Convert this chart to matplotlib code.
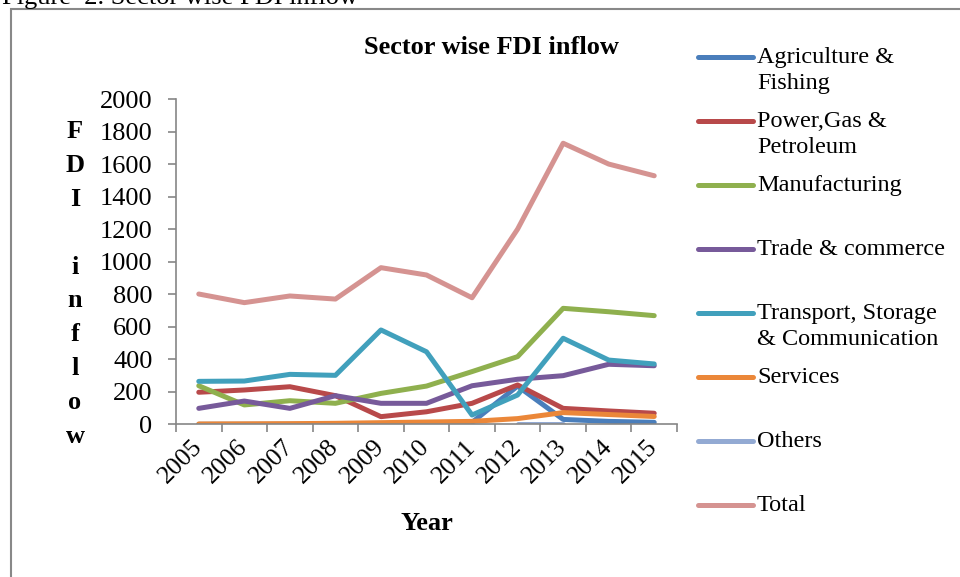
import matplotlib
matplotlib.use('Agg')
import matplotlib.pyplot as plt
import numpy as np
from matplotlib.lines import Line2D
from matplotlib.patches import Rectangle

plt.rcParams['font.family'] = 'Liberation Serif'

years = ['2005', '2006', '2007', '2008', '2009', '2010', '2011', '2012', '2013', '2014', '2015']

agriculture = [0, 0, 0, 0, 3, 5, 12, 235, 30, 18, 12]
power = [197, 211, 231, 176, 47, 77, 129, 242, 98, 82, 68]
manufacturing = [237, 119, 145, 129, 190, 235, 324, 416, 713, 692, 668]
trade = [98, 143, 98, 176, 129, 129, 237, 277, 299, 369, 360]
transport = [264, 266, 307, 301, 580, 446, 57, 180, 529, 395, 371]
services = [2, 3, 4, 6, 10, 14, 18, 35, 72, 60, 48]
others = [np.nan, np.nan, np.nan, np.nan, np.nan, np.nan, np.nan, 3, 3, np.nan, np.nan]
total = [801, 748, 789, 770, 963, 918, 778, 1200, 1728, 1600, 1528]

series = [
    ('Agriculture &\nFishing', agriculture, '#4A7EBB'),
    ('Power,Gas &\nPetroleum', power, '#B8494A'),
    ('Manufacturing', manufacturing, '#8FB04E'),
    ('Trade & commerce', trade, '#775A9A'),
    ('Transport, Storage\n& Communication', transport, '#41A0BC'),
    ('Services', services, '#EB8739'),
    ('Others', others, '#93AAD3'),
    ('Total', total, '#D59391'),
]

W, H = 960, 577
fig = plt.figure(figsize=(9.6, 5.77), dpi=100)

# outer frame from the document
fig.add_artist(Rectangle((10.5 / W, -0.1), 2, (H - 9) / H + 0.1, transform=fig.transFigure,
                         fill=False, edgecolor='#888888', lw=1.5))
fig.text(2 / W, (H - 4) / H, 'Figure  2. Sector wise FDI inflow', fontsize=19,
         va='baseline', ha='left')

ax = fig.add_axes([176 / W, (H - 424.3) / H, 501 / W, 325.3 / H])
x = np.arange(len(years))
for label, vals, color in series:
    ax.plot(x, vals, color=color, lw=3.6, solid_capstyle='round', solid_joinstyle='round')

ax.set_xlim(-0.5, len(years) - 0.5)
ax.set_ylim(0, 2000)
ax.set_yticks(range(0, 2001, 200))
ax.set_xticks(np.arange(-0.5, len(years), 1))
ax.set_xticklabels([])
ax.set_xticks(x, minor=True)
ax.set_xticklabels(years, minor=True, rotation=45, ha='right', va='center',
                   rotation_mode='anchor', fontsize=18.5)
ax.tick_params(axis='x', which='minor', length=0, pad=14)
ax.tick_params(axis='x', which='major', length=6, width=1.2, color='#868686', direction='out')
ax.tick_params(axis='y', length=6, width=1.2, color='#868686', direction='out', pad=11, labelsize=19)
for s in ['top', 'right']:
    ax.spines[s].set_visible(False)
for s in ['left', 'bottom']:
    ax.spines[s].set_color('#868686')
    ax.spines[s].set_linewidth(1.2)

fig.text(491 / W, (H - 47) / H, 'Sector wise FDI inflow', fontsize=19, fontweight='bold',
         ha='center', va='center')
fig.text(427 / W, (H - 523) / H, 'Year', fontsize=19, fontweight='bold', ha='center', va='center')
fig.text(75 / W, (H - 284) / H, '\n'.join('FDI inflow'), fontsize=19, fontweight='bold',
         ha='center', va='center', linespacing=1.6)

# legend, drawn Excel-style with the swatch on the first text line
ly = 57
for label, vals, color in series:
    fig.add_artist(Line2D([698 / W, 753 / W], [(H - ly) / H] * 2, transform=fig.transFigure,
                          color=color, lw=3.6, solid_capstyle='round'))
    fig.text(757 / W, (H - ly + 10) / H, label, fontsize=17.5, ha='left', va='top',
             linespacing=1.3, transform=fig.transFigure)
    ly += 64

fig.savefig('out.png', dpi=100)
